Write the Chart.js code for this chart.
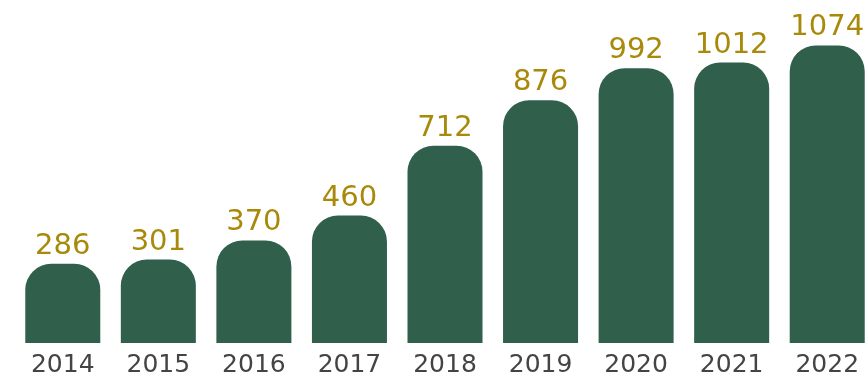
<!DOCTYPE html>
<html>
<head>
<meta charset="utf-8">
<script src="https://cdn.jsdelivr.net/npm/chart.js@4/dist/chart.umd.min.js"></script>
<style>
  html, body { margin: 0; padding: 0; background: #fff; overflow: hidden; }
  #wrap { width: 868px; height: 376px; overflow: hidden; position: relative; }
  canvas { position: absolute; left: 0; top: 0; }
</style>
</head>
<body>
<div id="wrap"><canvas id="chart" width="890" height="387"></canvas></div>
<script>
const years = ['2014', '2015', '2016', '2017', '2018', '2019', '2020', '2021', '2022'];
const counts = [286, 301, 370, 460, 712, 876, 992, 1012, 1074];

const barColor = '#305f4c';
const labelColor = '#a8890a';
const fontFamily = '"DejaVu Sans", sans-serif';

// draws the number above each bar
const valueLabels = {
    id: 'valueLabels',
    afterDatasetsDraw(chart) {
        const ctx = chart.ctx;
        const meta = chart.getDatasetMeta(0);
        ctx.save();
        ctx.fillStyle = labelColor;
        ctx.font = '29px ' + fontFamily;
        ctx.textAlign = 'center';
        ctx.textBaseline = 'alphabetic';
        meta.data.forEach((bar, i) => {
            ctx.fillText(String(counts[i]), bar.x, bar.y - 10);
        });
        ctx.restore();
    }
};

const ctx = document.getElementById('chart').getContext('2d');
new Chart(ctx, {
    type: 'bar',
    data: {
        labels: years,
        datasets: [{
            data: counts,
            backgroundColor: barColor,
            borderRadius: { topLeft: 26, topRight: 26 },
            borderSkipped: 'bottom',
            categoryPercentage: 1,
            barPercentage: 0.785,
        }]
    },
    options: {
        responsive: false,
        animation: false,
        layout: { padding: { left: 15, right: 15, top: 0, bottom: 0 } },
        plugins: {
            legend: { display: false },
            tooltip: { enabled: false },
        },
        scales: {
            x: {
                grid: { display: false, drawTicks: false },
                border: { display: false },
                ticks: {
                    color: '#444444',
                    padding: 7,
                    font: { family: fontFamily, size: 25 },
                },
            },
            y: {
                display: false,
                min: 0,
                max: 1238,
            }
        }
    },
    plugins: [valueLabels]
});
</script>
</body>
</html>
